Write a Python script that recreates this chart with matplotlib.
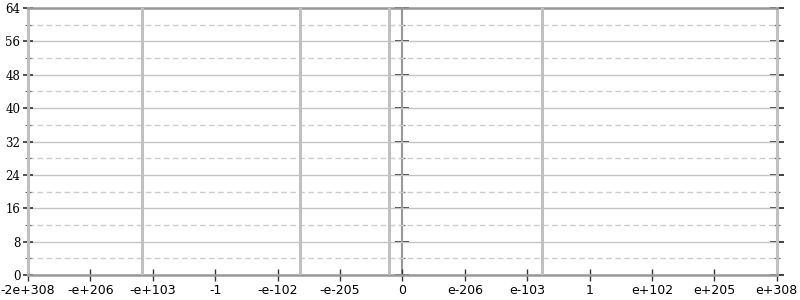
import matplotlib
matplotlib.use("Agg")
import matplotlib.pyplot as plt
from matplotlib.ticker import MultipleLocator, FixedLocator

# x is the position along the ordered float axis (one unit per tick)
tick_pos = list(range(13))
tick_labels = ["-2e+308", "-e+206", "-e+103", "-1", "-e-102", "-e-205", "0",
               "e-206", "e-103", "1", "e+102", "e+205", "e+308"]
bar_x = [1.83, 4.37, 5.79, 8.25]
bar_h = [64, 64, 64, 64]
y_major = list(range(0, 65, 8))
y_minor = list(range(4, 64, 8))

fig = plt.figure(figsize=(8, 3), dpi=100)
ax = fig.add_axes([0.035, 0.0833, 0.936, 0.89])

ax.bar(bar_x, bar_h, width=0.045, color="#c0c0c0", zorder=3)

ax.set_xlim(0, 12)
ax.set_ylim(0, 64)
ax.set_xticks(tick_pos)
ax.set_xticklabels(tick_labels, fontsize=9, family="DejaVu Sans")
ax.set_yticks(y_major)
ax.set_yticks(y_minor, minor=True)
for lab in ax.get_yticklabels():
    lab.set_family("DejaVu Serif")
    lab.set_fontsize(8.5)

ax.grid(axis="y", which="major", color="#c4c4c4", linewidth=1, zorder=1)
ax.grid(axis="y", which="minor", color="#cccccc", linewidth=1,
        linestyle=(0, (4, 2.5)), zorder=1)
ax.set_axisbelow(True)

ax.tick_params(axis="x", direction="inout", length=9, width=1, color="#333333", pad=2)
ax.tick_params(axis="y", which="major", direction="inout", length=7, width=1.2,
               color="#333333", pad=2)
ax.tick_params(axis="y", which="minor", direction="inout", length=4, width=0.8,
               color="#666666")

for side in ("top", "bottom"):
    ax.spines[side].set_color("#999999")
    ax.spines[side].set_linewidth(1.8)
for side in ("left", "right"):
    ax.spines[side].set_color("#c0c0c0")
    ax.spines[side].set_linewidth(2.2)

# central and right y axes: ticks only, no labels
for loc in (0.5, 1.0):
    sec = ax.secondary_yaxis(loc)
    sec.yaxis.set_major_locator(FixedLocator(y_major))
    sec.yaxis.set_minor_locator(FixedLocator(y_minor))
    sec.tick_params(which="major", direction="inout", length=10, width=1.3,
                    color="#333333", labelright=False, labelleft=False)
    sec.tick_params(which="minor", direction="inout", length=5, width=0.9,
                    color="#666666")
    sec.spines["left"].set_visible(False)
    sec.spines["right"].set_visible(False)
    if loc == 0.5:
        sec.spines["left"].set_visible(True)
        sec.spines["left"].set_color("#999999")
        sec.spines["left"].set_linewidth(1.5)

fig.savefig("out.png", dpi=100)
